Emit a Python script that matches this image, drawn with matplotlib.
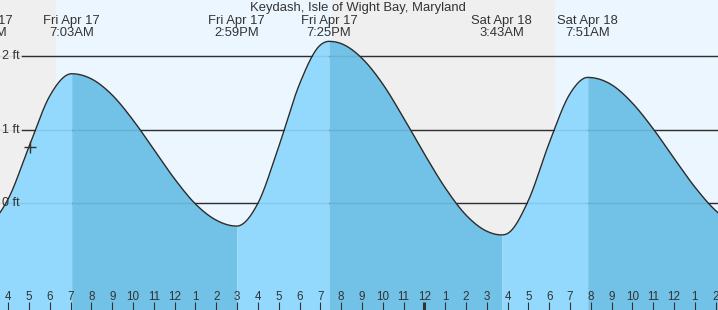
import numpy as np
import matplotlib
matplotlib.use("Agg")
import matplotlib.pyplot as plt

plt.rcParams['font.family'] = ['Liberation Sans', 'DejaVu Sans']

# tide extremes (hours from midnight Fri Apr 17, feet)
ext_times = [2.85, 7.05, 14.983, 19.417, 27.717, 31.85, 39.85]
ext_heights = [-0.30, 1.76, -0.31, 2.20, -0.43, 1.71, -0.36]
ext_days = ["Fri Apr 17", "Fri Apr 17", "Fri Apr 17", "Fri Apr 17", "Sat Apr 18", "Sat Apr 18", ""]
ext_clock = ["2:51AM", "7:03AM", "2:59PM", "7:25PM", "3:43AM", "7:51AM", ""]

# hourly heights
hour_times = [3, 4, 5, 6, 8, 9, 10, 11, 12, 13, 14, 16, 17, 18, 19, 20, 21, 22, 23,
              24, 25, 26, 27, 28, 29, 30, 31, 33, 34, 35, 36, 37, 38, 39]
hour_heights = [-0.29, 0.06, 0.77, 1.46, 1.69, 1.47, 1.13, 0.73, 0.33, -0.01, -0.23,
                0.00, 0.77, 1.62, 2.15, 2.17, 1.97, 1.62, 1.16, 0.67, 0.21, -0.16,
                -0.38, -0.41, 0.04, 0.82, 1.49, 1.61, 1.36, 1.01, 0.61, 0.22, -0.10, -0.30]

# sunrise / sunset
sun_times = [6.30, 19.56, 30.28]

# hour tick labels
tick_hours = list(range(4, 39))
tick_labels = [str((h - 1) % 12 + 1) for h in tick_hours]

now_time, now_height = 5.05, 0.77

title = "Keydash, Isle of Wight Bay, Maryland"

X0, X1 = 3.605, 38.11
Y0, Y1 = -1.45, 2.762
W, H = 718, 310


def smooth(t, h, n=30):
    """Hermite curve through the points, flat at turning points"""
    t = np.asarray(t, float)
    h = np.asarray(h, float)
    dt = np.diff(t)
    d = np.diff(h) / dt
    m = np.zeros_like(h)
    m[1:-1] = (d[:-1] * dt[1:] + d[1:] * dt[:-1]) / (dt[:-1] + dt[1:])
    m[1:-1][d[:-1] * d[1:] <= 0] = 0
    m[0], m[-1] = d[0], d[-1]
    ts, hs = [], []
    for i in range(len(t) - 1):
        s = np.linspace(0, 1, n)
        if i > 0:
            s = s[1:]
        h00 = 2 * s**3 - 3 * s**2 + 1
        h10 = s**3 - 2 * s**2 + s
        h01 = -2 * s**3 + 3 * s**2
        h11 = s**3 - s**2
        ts.append(t[i] + s * dt[i])
        hs.append(h00 * h[i] + h10 * dt[i] * m[i] + h01 * h[i + 1] + h11 * dt[i] * m[i + 1])
    return np.concatenate(ts), np.concatenate(hs)


pts = sorted(zip(ext_times + hour_times, ext_heights + hour_heights))
tt, hh = smooth([p[0] for p in pts], [p[1] for p in pts])

fig = plt.figure(figsize=(W / 100, H / 100), dpi=100)
ax = fig.add_axes([0, 0, 1, 1])
ax.set_axis_off()
ax.set_xlim(X0, X1)
ax.set_ylim(Y0, Y1)

# day / night background
day_c, night_c = '#ecf6fe', '#efefef'
edges = [X0] + sun_times + [X1]
for i in range(len(edges) - 1):
    ax.axvspan(edges[i], edges[i + 1], color=night_c if i % 2 == 0 else day_c, lw=0, zorder=0)

# foot lines
for lv in [0, 1, 2]:
    ax.axhline(lv, xmin=22 / W, color='#333333', lw=1.0, zorder=1)
    ax.text(2 / W, lv, f"{lv} ft", transform=ax.get_yaxis_transform(), ha='left',
            va='center', fontsize=9, color='#333333', zorder=5)

# fill: lighter while rising, darker while falling
for i in range(len(ext_times) - 1):
    a, b = ext_times[i], ext_times[i + 1]
    mask = (tt >= a) & (tt <= b)
    col = '#72c1e6' if ext_heights[i] > ext_heights[i + 1] else '#93d9fd'
    ax.fill_between(tt[mask], Y0, hh[mask], color=col, lw=0, zorder=2)

for lv in [0, 1, 2]:
    ax.axhline(lv, color='#000000', alpha=0.08, lw=1.0, zorder=3)

ax.plot(tt, hh, color='#2b2b2b', lw=1.0, zorder=4)
ax.plot([now_time], [now_height], marker='+', ms=8, mew=1.0, color='#333333', zorder=5)

# extreme labels
xt = ax.get_xaxis_transform()
for t, day, clk in zip(ext_times, ext_days, ext_clock):
    if not day:
        continue
    ax.text(t, 1 - 24 / H, day, transform=xt, ha='center', va='baseline',
            fontsize=9.4, color='#333333', zorder=6)
    ax.text(t, 1 - 36.5 / H, clk, transform=xt, ha='center', va='baseline',
            fontsize=9.4, color='#333333', zorder=6)

ax.text((X0 + X1) / 2 - 0.05, 1 - 11 / H, title, transform=xt, ha='center', va='baseline',
        fontsize=9.4, color='#333333', zorder=6)

# hour ticks
for h, lab in zip(tick_hours, tick_labels):
    bold = (h % 24 == 0)
    ax.plot([h, h], [0, 8 / H], transform=xt, color='#333333',
            lw=2.2 if bold else 0.8, solid_capstyle='butt', zorder=6)
    ax.text(h, 1 - 300 / H, lab, transform=xt, ha='center', va='baseline',
            fontsize=8.4, color='#333333', zorder=6)

fig.savefig('out.png', dpi=100)
